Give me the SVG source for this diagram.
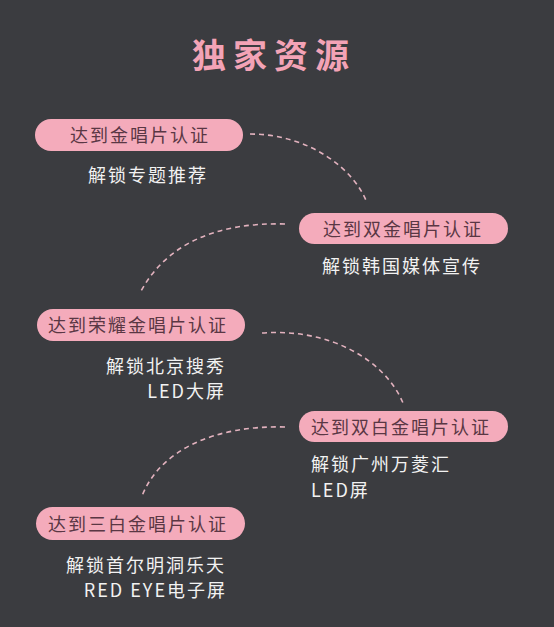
<svg xmlns="http://www.w3.org/2000/svg" width="554" height="627" viewBox="0 0 554 627">
<style>
.pill{fill:#f4abbb}
.pt{font-family:"Noto Sans CJK SC","Noto Sans",sans-serif;font-size:18px;letter-spacing:2px;fill:#5a3744;text-anchor:middle}
.st{font-family:"Noto Sans CJK SC","Noto Sans",sans-serif;font-size:18px;letter-spacing:2px;fill:#f2f2f2}
.con{fill:none;stroke:#e2b2be;stroke-width:1.6;stroke-dasharray:5 4}
</style>
<rect width="554" height="627" fill="#3b3c40"/>
<text x="274" y="68" text-anchor="middle" font-family="'Noto Sans CJK SC',sans-serif" font-size="34" font-weight="bold" letter-spacing="7" fill="#f3a3b6">独家资源</text>
<g id="connectors">
<path class="con" d="M250,134 C310,134 355,170 367,203"/>
<path class="con" d="M285,224 C215,222 165,245 140,293"/>
<path class="con" d="M262,333 C330,328 385,360 403,403"/>
<path class="con" d="M285,427 C215,425 160,450 142,496"/>
</g>
<g id="n1">
<rect class="pill" x="35" y="119" width="208" height="32" rx="16"/>
<text class="pt" x="140" y="142">达到金唱片认证</text>
<text class="st" x="88" y="182">解锁专题推荐</text>
</g>
<g id="n2">
<rect class="pill" x="299" y="213" width="209" height="31" rx="15.5"/>
<text class="pt" x="403" y="236">达到双金唱片认证</text>
<text class="st" x="322" y="273">解锁韩国媒体宣传</text>
</g>
<g id="n3">
<rect class="pill" x="37" y="309" width="208" height="32" rx="16"/>
<text class="pt" x="138" y="332">达到荣耀金唱片认证</text>
<text class="st" x="226" y="373" text-anchor="end">解锁北京搜秀</text>
<text class="st" x="226" y="398" text-anchor="end" letter-spacing="3">LED大屏</text>
</g>
<g id="n4">
<rect class="pill" x="299" y="411" width="209" height="31" rx="15.5"/>
<text class="pt" x="401" y="434">达到双白金唱片认证</text>
<text class="st" x="311" y="471">解锁广州万菱汇</text>
<text class="st" x="311" y="497" letter-spacing="3">LED屏</text>
</g>
<g id="n5">
<rect class="pill" x="36" y="507" width="209" height="33" rx="16.5"/>
<text class="pt" x="138" y="531">达到三白金唱片认证</text>
<text class="st" x="226" y="572" text-anchor="end">解锁首尔明洞乐天</text>
<text class="st" x="227" y="597" text-anchor="end" letter-spacing="3">RED EYE电子屏</text>
</g>
</svg>
